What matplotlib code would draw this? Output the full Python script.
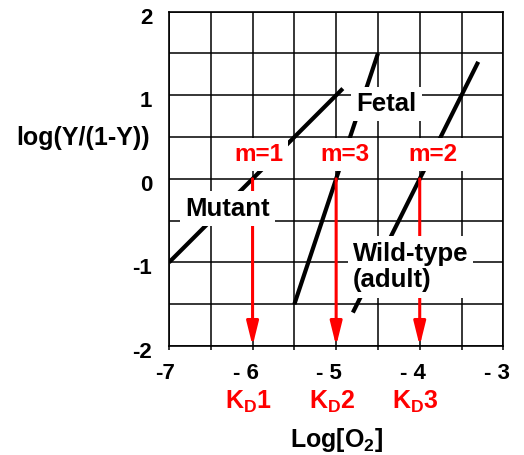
import matplotlib
matplotlib.use('Agg')
import matplotlib.pyplot as plt
import matplotlib.transforms as mtransforms
import numpy as np

# Hill plot values
mutant_x = [-7.0, -4.92]
mutant_y = [-1.0, 1.08]
fetal_x = [-5.5, -4.5]
fetal_y = [-1.5, 1.5]
wild_x = [-4.8, -3.3]
wild_y = [-1.6, 1.4]

kd_x = [-6, -5, -4]
kd_labels = ['K$_\\mathrm{D}$1', 'K$_\\mathrm{D}$2', 'K$_\\mathrm{D}$3']
m_labels = ['m=1', 'm=3', 'm=2']
m_label_x = [-5.93, -4.90, -3.84]
m_label_y = 0.21

xticks = [-7, -6, -5, -4, -3]
xtick_labels = ['-7', '- 6', '- 5', '- 4', '- 3']
yticks = [2, 1, 0, -1, -2]
ytick_labels = ['2', '1', '0', '-1', '-2']

plt.rcParams['font.family'] = ['Liberation Sans', 'DejaVu Sans']
plt.rcParams['font.weight'] = 'bold'
plt.rcParams['mathtext.fontset'] = 'custom'
plt.rcParams['mathtext.rm'] = 'Liberation Sans:bold'
plt.rcParams['mathtext.bf'] = 'Liberation Sans:bold'
plt.rcParams['mathtext.it'] = 'Liberation Sans:bold'
plt.rcParams['mathtext.default'] = 'rm'

fig = plt.figure(figsize=(5.24, 4.55), dpi=100)
ax = fig.add_axes([0.3225, 0.2396, 0.638, 0.7347])

ax.set_xlim(-7, -3)
ax.set_ylim(-2, 2)

# grid every half unit
ax.set_xticks(xticks)
ax.set_xticklabels(xtick_labels, fontsize=16, fontweight='bold')
ax.set_xticks(np.arange(-6.5, -3, 1.0), minor=True)
ax.set_yticks(yticks)
ax.set_yticklabels(ytick_labels, fontsize=16, fontweight='bold')
ax.set_yticks(np.arange(-1.5, 2, 1.0), minor=True)
ax.grid(True, which='both', color='black', lw=1.1, zorder=1)
ax.set_axisbelow(True)
ax.tick_params(axis='x', which='both', direction='out', length=3, width=1.1, pad=9)
ax.tick_params(axis='y', which='both', length=0, pad=12)
for sp in ax.spines.values():
    sp.set_linewidth(1.2)

# digits sit on the tick, the minus hangs to the left
xoff = mtransforms.ScaledTranslation(0.062, 0, fig.dpi_scale_trans)
for lab in ax.get_xticklabels():
    lab.set_horizontalalignment('right')
    lab.set_transform(lab.get_transform() + xoff)
yoff = mtransforms.ScaledTranslation(0, -0.04, fig.dpi_scale_trans)
for lab in ax.get_yticklabels():
    lab.set_transform(lab.get_transform() + yoff)

# Hill lines
ax.plot(mutant_x, mutant_y, color='black', lw=3, solid_capstyle='butt', zorder=3)
ax.plot(fetal_x, fetal_y, color='black', lw=3, solid_capstyle='butt', zorder=3)
ax.plot(wild_x, wild_y, color='black', lw=3, solid_capstyle='butt', zorder=3)

# red arrows from log(Y/(1-Y)) = 0 down to the axis
for x in kd_x:
    ax.annotate('', xy=(x, -2), xytext=(x, 0),
                arrowprops=dict(arrowstyle='-|>,head_length=1.45,head_width=0.36',
                                mutation_scale=10, color='red', lw=2.2,
                                shrinkA=0, shrinkB=0),
                zorder=4, annotation_clip=False)

box = dict(boxstyle='square,pad=0.2', fc='white', ec='none')
for x, s in zip(m_label_x, m_labels):
    ax.text(x, m_label_y, s, color='red', fontsize=17.5, fontweight='bold',
            ha='center', va='baseline', bbox=box, zorder=6)

ax.text(-4.40, 0.81, 'Fetal', fontsize=18.5, fontweight='bold',
        ha='center', va='baseline', bbox=box, zorder=6)
ax.text(-6.30, -0.44, 'Mutant', fontsize=18.5, fontweight='bold',
        ha='center', va='baseline', bbox=box, zorder=6)
ax.text(-4.11, -1.30, 'Wild-type\n(adult)', fontsize=18.5, fontweight='bold',
        ha='center', va='baseline', multialignment='left', bbox=box,
        linespacing=1.15, zorder=6)

# K_D labels under the ticks
for x, s in zip(kd_x, kd_labels):
    ax.annotate(s, xy=(x - 0.05, -0.1865), xycoords=('data', 'axes fraction'),
                color='red', fontsize=18, fontweight='bold',
                ha='center', va='baseline', annotation_clip=False)

ax.set_xlabel('Log[O$_2$]', fontsize=18, fontweight='bold', va='top')
ax.xaxis.set_label_coords(0.5, -0.238)
ax.set_ylabel('log(Y/(1-Y))', fontsize=18, fontweight='bold', rotation=0,
              ha='right', va='center')
ax.yaxis.set_label_coords(-0.058, 0.623)

fig.savefig('out.png', dpi=100)
